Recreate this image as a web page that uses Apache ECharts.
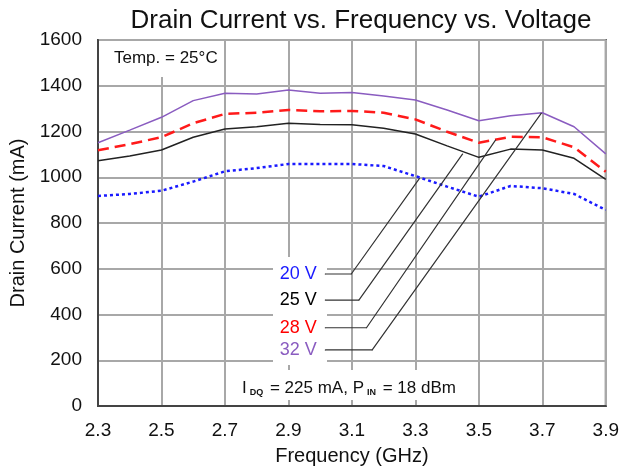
<!DOCTYPE html>
<html>
<head>
<meta charset="utf-8">
<script src="https://cdn.jsdelivr.net/npm/echarts@6/dist/echarts.min.js"></script>
<style>
  html, body { margin: 0; padding: 0; background: #fff; }
  #chart { width: 622px; height: 472px; }
</style>
</head>
<body>
<div id="chart"></div>
<script>
// frequency points (GHz)
const freqs = ['2.3', '2.4', '2.5', '2.6', '2.7', '2.8', '2.9', '3.0', '3.1', '3.2', '3.3', '3.4', '3.5', '3.6', '3.7', '3.8', '3.9']
// drain current (mA) per drain voltage
const v20 = [918, 927, 941, 981, 1026, 1040, 1058, 1058, 1058, 1049, 1005, 959, 915, 962, 952, 927, 857]
const v25 = [1072, 1093, 1119, 1175, 1211, 1221, 1236, 1231, 1230, 1214, 1189, 1137, 1087, 1123, 1119, 1083, 991]
const v28 = [1118, 1145, 1175, 1236, 1277, 1282, 1294, 1288, 1290, 1282, 1253, 1199, 1151, 1177, 1175, 1131, 1024]
const v32 = [1151, 1206, 1262, 1335, 1367, 1364, 1381, 1367, 1370, 1355, 1338, 1294, 1247, 1269, 1282, 1221, 1102]
const yTicks = [0, 200, 400, 600, 800, 1000, 1200, 1400, 1600]

// leader lines from the voltage labels to the curves (data coords)
const leaderNames = ['20 V', '25 V', '28 V', '32 V']
const leaderColors = ['#1a1aff', '#000000', '#ff0000', '#8a5cc0']
const leaderY = [577, 463, 342, 245]
const leaderStartX = 3.016
const leaderBendX = [3.098, 3.122, 3.146, 3.164]
const leaderEndX = [3.313, 3.449, 3.553, 3.697]
const leaderEndY = [995, 1102, 1163, 1280]

const font = 'Liberation Sans, Arial, sans-serif'
let myChart = echarts.init(document.getElementById('chart'))

function curve (name, data, color, type, width) {
  return {
    name: name,
    type: 'line',
    data: data,
    symbol: 'none',
    z: 4,
    lineStyle: { color: color, width: width, type: type }
  }
}

let leaders = leaderNames.map(function (n, i) {
  return {
    type: 'line',
    xAxisIndex: 1,
    symbol: 'circle',
    symbolSize: 1,
    showSymbol: true,
    itemStyle: { color: '#333' },
    z: 5,
    silent: true,
    lineStyle: { color: '#333', width: 1.2 },
    data: [
      {
        value: [leaderStartX, leaderY[i]],
        label: {
          show: true, position: 'left', distance: 8, formatter: n,
          color: leaderColors[i], fontSize: 18, fontFamily: font
        }
      },
      [leaderBendX[i], leaderY[i]],
      [leaderEndX[i], leaderEndY[i]]
    ]
  }
})

myChart.setOption({
  animation: false,
  title: {
    text: 'Drain Current vs. Frequency vs. Voltage',
    left: 356, top: 3, textAlign: 'center',
    textStyle: { fontSize: 26, fontWeight: 'normal', color: '#111', fontFamily: font }
  },
  grid: {
    left: 98, right: 13, top: 40, bottom: 66,
    show: true, borderColor: '#444', borderWidth: 2, backgroundColor: 'transparent'
  },
  xAxis: [{
    type: 'category',
    data: freqs,
    boundaryGap: false,
    name: 'Frequency (GHz)',
    nameLocation: 'middle',
    nameGap: 40,
    nameTextStyle: { fontSize: 20, color: '#111', fontFamily: font },
    axisLine: { lineStyle: { color: '#444', width: 2 } },
    axisTick: { show: false },
    axisLabel: { interval: 1, margin: 15, fontSize: 19, color: '#111', fontFamily: font },
    splitLine: { show: true, interval: 1, lineStyle: { color: '#a8a8a8', width: 2 } }
  }, {
    type: 'value', min: 2.3, max: 3.9, show: false
  }],
  yAxis: {
    type: 'value',
    min: yTicks[0], max: yTicks[yTicks.length - 1], interval: 200,
    name: 'Drain Current (mA)',
    nameLocation: 'middle',
    nameGap: 68,
    nameTextStyle: { fontSize: 20, color: '#111', fontFamily: font },
    axisLine: { show: true, lineStyle: { color: '#444', width: 2 } },
    axisTick: { show: false },
    axisLabel: {
      margin: 16, fontSize: 19, color: '#111', fontFamily: font,
      formatter: function (v) { return String(v) }
    },
    splitLine: { lineStyle: { color: '#a8a8a8', width: 2 } }
  },
  graphic: [
    { type: 'rect', z: 1, shape: { x: 99, y: 41, width: 124, height: 36 }, style: { fill: '#fff' } },
    { type: 'text', z: 6, x: 114, y: 50, style: { text: 'Temp. = 25°C', fontSize: 17, fill: '#111', fontFamily: font } },
    { type: 'rect', z: 1, shape: { x: 273, y: 257, width: 54, height: 108 }, style: { fill: '#fff' } },
    { type: 'rect', z: 1, shape: { x: 238, y: 370, width: 220, height: 30 }, style: { fill: '#fff' } },
    {
      type: 'text', z: 6, x: 242, y: 380,
      style: {
        text: 'I{s|DQ} = 225 mA, P{s|IN} = 18 dBm',
        fontSize: 17, fill: '#111', fontFamily: font,
        rich: { s: { fontSize: 9, fontWeight: 'bold', verticalAlign: 'bottom', padding: [7, 2, 0, 3] } }
      }
    }
  ],
  series: [
    curve('20 V', v20, '#1a1aff', [3, 3], 2.5),
    curve('25 V', v25, '#222', 'solid', 1.5),
    curve('28 V', v28, '#ff1a1a', [11, 6], 2.5),
    curve('32 V', v32, '#8a5cc0', 'solid', 1.5)
  ].concat(leaders)
})
</script>
</body>
</html>
